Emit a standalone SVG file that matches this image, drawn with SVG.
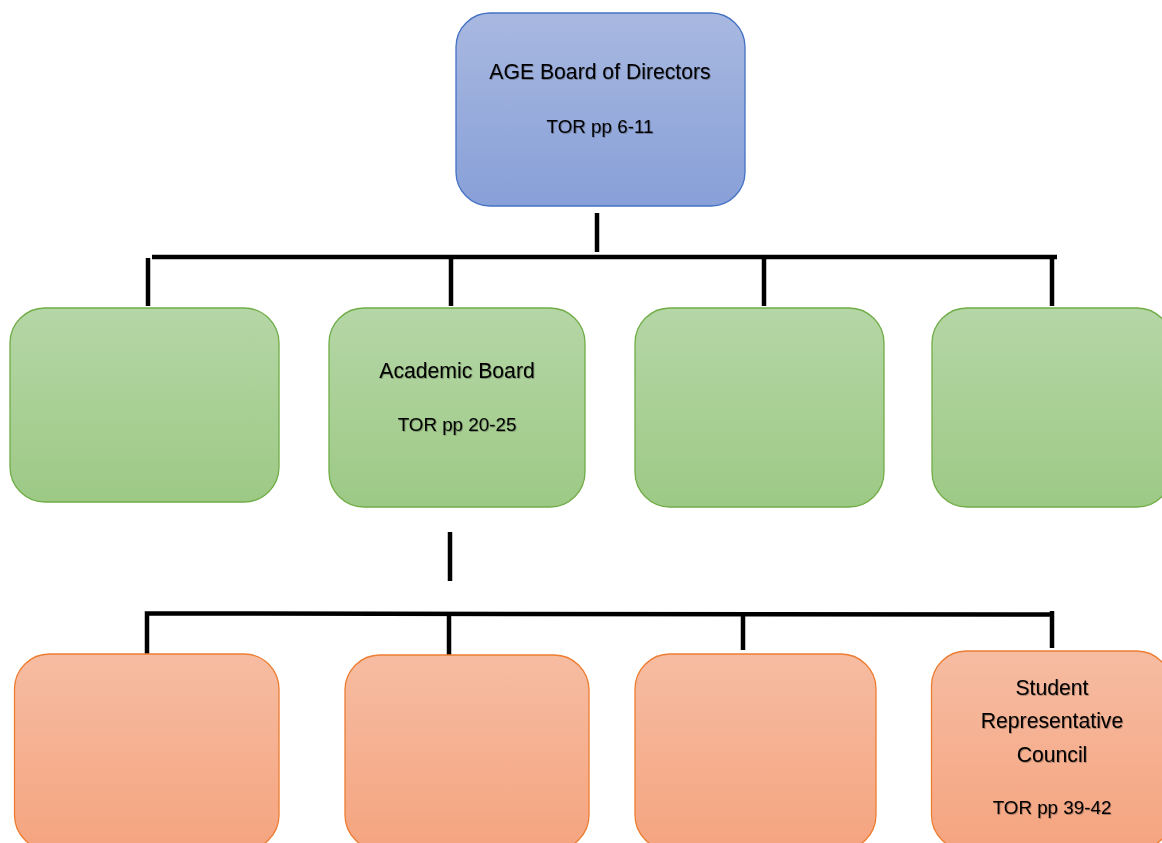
<svg xmlns="http://www.w3.org/2000/svg" width="1162" height="843" viewBox="0 0 1162 843">
<style>
  .t { font-family: "Liberation Sans", Arial, sans-serif; fill: #000; text-anchor: middle; filter: url(#shadow); }
  .h { font-size: 21.2px; }
  .s { font-size: 18.8px; }
  .blue { fill: url(#gBlue); stroke: #4472c4; stroke-width: 1.3; }
  .green { fill: url(#gGreen); stroke: #70ad47; stroke-width: 1.3; }
  .orange { fill: url(#gOrange); stroke: #ed7d31; stroke-width: 1.3; }
  .ln { stroke: #000; stroke-width: 4.5; fill: none; stroke-linecap: butt; }
</style>
<defs>
  <linearGradient id="gBlue" x1="0" y1="0" x2="0" y2="1">
    <stop offset="0" stop-color="#a8b8e0"/>
    <stop offset="1" stop-color="#88a0d8"/>
  </linearGradient>
  <linearGradient id="gGreen" x1="0" y1="0" x2="0" y2="1">
    <stop offset="0" stop-color="#b5d6a6"/>
    <stop offset="1" stop-color="#9dc985"/>
  </linearGradient>
  <linearGradient id="gOrange" x1="0" y1="0" x2="0" y2="1">
    <stop offset="0" stop-color="#f6bca2"/>
    <stop offset="1" stop-color="#f5a47f"/>
  </linearGradient>
  <filter id="shadow" x="-10%" y="-30%" width="120%" height="160%">
    <feDropShadow dx="0.8" dy="0.8" stdDeviation="0.7" flood-color="#000" flood-opacity="0.35"/>
  </filter>
</defs>
<rect width="1162" height="843" fill="#fff"/>

<g id="connectors">
  <line class="ln" x1="597" y1="213" x2="597" y2="252"/>
  <line class="ln" x1="152" y1="257" x2="1057" y2="257"/>
  <line class="ln" x1="148" y1="258" x2="148" y2="306"/>
  <line class="ln" x1="451" y1="257" x2="451" y2="306"/>
  <line class="ln" x1="764" y1="257" x2="764" y2="306"/>
  <line class="ln" x1="1052" y1="257" x2="1052" y2="306"/>
  <line class="ln" x1="450" y1="532" x2="450" y2="581"/>
  <polyline class="ln" points="147,654 147,613.5 1052,614.5"/>
  <line class="ln" x1="449" y1="614" x2="449" y2="658"/>
  <line class="ln" x1="743" y1="612" x2="743" y2="650"/>
  <line class="ln" x1="1052" y1="611" x2="1052" y2="648"/>
</g>

<g id="node-age-board">
  <rect class="blue" x="456" y="13" width="289" height="193" rx="34" ry="34"/>
  <text class="t h" x="600" y="79">AGE Board of Directors</text>
  <text class="t s" x="600" y="133">TOR pp 6-11</text>
</g>

<g id="node-green-1">
  <rect class="green" x="10" y="308" width="269" height="194" rx="35" ry="35"/>
</g>
<g id="node-academic-board">
  <rect class="green" x="329" y="308" width="256" height="199" rx="35" ry="35"/>
  <text class="t h" x="457" y="378">Academic Board</text>
  <text class="t s" x="457" y="431">TOR pp 20-25</text>
</g>
<g id="node-green-3">
  <rect class="green" x="635" y="308" width="249" height="199" rx="35" ry="35"/>
</g>
<g id="node-green-4">
  <rect class="green" x="932" y="308" width="240" height="199" rx="35" ry="35"/>
</g>

<g id="node-orange-1">
  <rect class="orange" x="14.5" y="654" width="264.5" height="196" rx="35" ry="35"/>
</g>
<g id="node-orange-2">
  <rect class="orange" x="345" y="655" width="244" height="195" rx="35" ry="35"/>
</g>
<g id="node-orange-3">
  <rect class="orange" x="635" y="654" width="241" height="196" rx="35" ry="35"/>
</g>
<g id="node-student-council">
  <rect class="orange" x="931.5" y="651" width="240" height="199" rx="35" ry="35"/>
  <text class="t h" x="1052" y="695">Student</text>
  <text class="t h" x="1052" y="728">Representative</text>
  <text class="t h" x="1052" y="762">Council</text>
  <text class="t s" x="1052" y="814">TOR pp 39-42</text>
</g>
</svg>
